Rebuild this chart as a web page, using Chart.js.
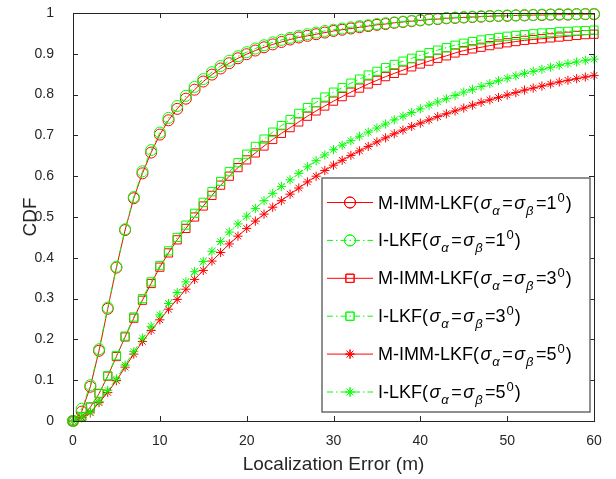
<!DOCTYPE html>
<html lang="en">
<head>
<meta charset="UTF-8">
<title>CDF of localization error</title>
<script src="https://cdn.jsdelivr.net/npm/chart.js"></script>
<style>
    body { margin: 0; background: #fff; }
    #wrap { width: 616px; height: 479px; }
</style>
</head>
<body>
<div id="wrap"><canvas id="cdfChart" width="616" height="479"></canvas></div>
<script>
// localization error (m), one sample per metre
const errors = [0,1,2,3,4,5,6,7,8,9,10,11,12,13,14,15,16,17,18,19,20,21,22,23,24,25,26,27,28,29,30,
    31,32,33,34,35,36,37,38,39,40,41,42,43,44,45,46,47,48,49,50,51,52,53,54,55,56,57,58,59,60];

// CDF values
const mImm1 = [0,0.023,0.084,0.172,0.275,0.376,0.468,0.546,0.607,0.658,0.702,0.737,0.765,0.79,0.812,0.832,
    0.849,0.864,0.877,0.889,0.899,0.908,0.916,0.923,0.929,0.935,0.94,0.944,0.948,0.952,0.956,
    0.959,0.962,0.965,0.968,0.971,0.973,0.976,0.978,0.98,0.982,0.984,0.985,0.987,0.988,0.989,
    0.99,0.991,0.992,0.993,0.993,0.994,0.994,0.995,0.995,0.996,0.996,0.996,0.997,0.997,0.997];
const iLkf1 = [0,0.03,0.088,0.176,0.278,0.378,0.47,0.549,0.612,0.664,0.707,0.743,0.772,0.797,0.819,0.838,
    0.855,0.87,0.883,0.894,0.904,0.913,0.921,0.928,0.934,0.939,0.944,0.948,0.952,0.956,0.959,
    0.962,0.965,0.968,0.97,0.973,0.975,0.977,0.979,0.981,0.983,0.985,0.986,0.988,0.989,0.99,
    0.991,0.992,0.993,0.993,0.994,0.994,0.995,0.995,0.996,0.996,0.997,0.997,0.997,0.998,0.998];
const mImm3 = [0,0.011,0.034,0.067,0.11,0.158,0.206,0.252,0.296,0.337,0.377,0.412,0.444,0.472,0.5,0.527,
    0.553,0.578,0.6,0.621,0.64,0.657,0.674,0.69,0.705,0.719,0.733,0.747,0.76,0.772,0.784,
    0.795,0.806,0.816,0.826,0.835,0.844,0.852,0.86,0.868,0.875,0.882,0.889,0.895,0.902,0.908,
    0.912,0.916,0.92,0.924,0.927,0.93,0.933,0.935,0.937,0.939,0.941,0.943,0.945,0.947,0.948];
const iLkf3 = [0,0.011,0.035,0.068,0.111,0.16,0.208,0.255,0.3,0.341,0.381,0.417,0.45,0.48,0.509,0.536,
    0.562,0.587,0.611,0.633,0.654,0.673,0.691,0.708,0.724,0.739,0.754,0.768,0.781,0.794,0.806,
    0.817,0.828,0.838,0.848,0.857,0.866,0.874,0.882,0.889,0.896,0.903,0.909,0.915,0.921,0.926,
    0.93,0.934,0.937,0.94,0.943,0.945,0.947,0.949,0.951,0.952,0.954,0.955,0.956,0.957,0.958];
const mImm5 = [0,0.008,0.02,0.045,0.07,0.099,0.132,0.164,0.195,0.222,0.248,0.274,0.298,0.323,0.347,0.369,
    0.392,0.413,0.434,0.453,0.472,0.49,0.507,0.524,0.54,0.556,0.571,0.586,0.6,0.614,0.627,
    0.639,0.651,0.662,0.673,0.684,0.694,0.704,0.713,0.722,0.73,0.738,0.746,0.753,0.76,0.767,
    0.774,0.781,0.787,0.793,0.799,0.805,0.811,0.816,0.821,0.826,0.831,0.835,0.839,0.843,0.847];
const iLkf5 = [0,0.01,0.022,0.048,0.075,0.103,0.137,0.17,0.203,0.232,0.26,0.288,0.315,0.341,0.366,0.391,
    0.416,0.44,0.463,0.483,0.502,0.521,0.54,0.558,0.575,0.591,0.607,0.623,0.638,0.652,0.665,
    0.676,0.687,0.698,0.708,0.718,0.728,0.738,0.747,0.756,0.765,0.774,0.782,0.79,0.798,0.806,
    0.813,0.82,0.827,0.834,0.84,0.846,0.852,0.857,0.862,0.867,0.872,0.876,0.88,0.884,0.887];

const xTickValues = [0, 10, 20, 30, 40, 50, 60];
const yTickValues = [0, 0.1, 0.2, 0.3, 0.4, 0.5, 0.6, 0.7, 0.8, 0.9, 1];
const yTickLabels = ['0', '0.1', '0.2', '0.3', '0.4', '0.5', '0.6', '0.7', '0.8', '0.9', '1'];

const legendNames = ['M-IMM-LKF(', 'I-LKF(', 'M-IMM-LKF(', 'I-LKF(', 'M-IMM-LKF(', 'I-LKF('];
const legendSigma = ['1', '1', '3', '3', '5', '5'];
const xTitle = 'Localization Error (m)';
const yTitle = 'CDF';

const allSeries = [mImm1, iLkf1, mImm3, iLkf3, mImm5, iLkf5];
const colors = ['#ff0000', '#00ff00', '#ff0000', '#00ff00', '#ff0000', '#00ff00'];
const markers = ['circle', 'circle', 'rect', 'rect', 'star', 'star'];
const markerSize = { circle: 5.5, rect: 5.8, star: 4.6 };
const dashDot = [6, 3, 1.5, 3];

const FONT = '"Liberation Sans", Arial, Helvetica, sans-serif';
const AXIS_COLOR = '#262626';

// draws the matlab style box, inward ticks, axis titles and the legend
const matlabAxes = {
    id: 'matlabAxes',
    afterDraw(chart) {
        const ctx = chart.ctx;
        const area = chart.chartArea;
        const xs = chart.scales.x;
        const ys = chart.scales.y;
        ctx.save();
        ctx.strokeStyle = AXIS_COLOR;
        ctx.lineWidth = 1;
        ctx.strokeRect(area.left + 0.5, area.top + 0.5, area.right - area.left, area.bottom - area.top);
        ctx.beginPath();
        xTickValues.forEach(v => {
            const px = Math.round(xs.getPixelForValue(v)) + 0.5;
            ctx.moveTo(px, area.bottom); ctx.lineTo(px, area.bottom - 5);
            ctx.moveTo(px, area.top); ctx.lineTo(px, area.top + 5);
        });
        yTickValues.forEach(v => {
            const py = Math.round(ys.getPixelForValue(v)) + 0.5;
            ctx.moveTo(area.left, py); ctx.lineTo(area.left + 5, py);
            ctx.moveTo(area.right, py); ctx.lineTo(area.right - 5, py);
        });
        ctx.stroke();

        // axis titles
        ctx.fillStyle = AXIS_COLOR;
        ctx.font = '19px ' + FONT;
        ctx.textAlign = 'center';
        ctx.textBaseline = 'middle';
        ctx.fillText(xTitle, (area.left + area.right) / 2, 465);
        ctx.translate(31, (area.top + area.bottom) / 2);
        ctx.rotate(-Math.PI / 2);
        ctx.fillText(yTitle, 0, 0);
        ctx.restore();

        drawLegend(chart);
    }
};

function drawLegend(chart) {
    const ctx = chart.ctx;
    const box = { left: 322, top: 178, right: 590, bottom: 412 };
    ctx.save();
    ctx.fillStyle = '#fff';
    ctx.fillRect(box.left, box.top, box.right - box.left, box.bottom - box.top);
    ctx.strokeStyle = '#6b6b6b';
    ctx.lineWidth = 1.5;
    ctx.strokeRect(box.left, box.top, box.right - box.left, box.bottom - box.top);

    chart.data.datasets.forEach((ds, i) => {
        const cy = 202 + i * 37.9;
        ctx.strokeStyle = ds.borderColor;
        ctx.lineWidth = 1;
        ctx.setLineDash(ds.borderDash || []);
        ctx.beginPath();
        ctx.moveTo(327, cy + 0.5);
        ctx.lineTo(373, cy + 0.5);
        ctx.stroke();
        ctx.setLineDash([]);
        ctx.fillStyle = 'rgba(0,0,0,0)';
        Chart.helpers.drawPoint(ctx, {
            pointStyle: ds.pointStyle,
            radius: ds.pointRadius,
            borderWidth: 1
        }, 350, cy + 0.5);
        ctx.stroke();
        drawEntryText(ctx, 378, cy + 6.5, legendNames[i], legendSigma[i]);
    });
    ctx.restore();
}

function drawEntryText(ctx, x, y, name, deg) {
    let cx = x;
    ctx.fillStyle = '#000';
    ctx.textAlign = 'left';
    ctx.textBaseline = 'alphabetic';
    const put = (txt, font, dy, gap) => {
        ctx.font = font;
        ctx.fillText(txt, cx, y + dy);
        cx += ctx.measureText(txt).width + (gap || 0);
    };
    put(name, '18px ' + FONT, 0, 1.5);
    put('\u03c3', 'italic 18px ' + FONT, 0, 1);
    put('\u03b1', 'italic 13px ' + FONT, 6, 2.5);
    put('=', '18px ' + FONT, 0, 1.5);
    put('\u03c3', 'italic 18px ' + FONT, 0, 1);
    put('\u03b2', 'italic 13px ' + FONT, 6, 2.5);
    put('=' + deg, '18px ' + FONT, 0, 1);
    put('0', '13px ' + FONT, -7, 1);
    put(')', '18px ' + FONT, 0, 0);
}

const datasets = allSeries.map((vals, i) => ({
    label: legendNames[i] + legendSigma[i],
    data: errors.map((e, k) => ({ x: e, y: vals[k] })),
    borderColor: colors[i],
    backgroundColor: 'rgba(0,0,0,0)',
    borderWidth: 1,
    borderDash: i % 2 === 1 ? dashDot : [],
    pointStyle: markers[i],
    pointRadius: markerSize[markers[i]],
    pointBorderColor: colors[i],
    pointBackgroundColor: 'rgba(0,0,0,0)',
    pointBorderWidth: 1,
    tension: 0,
    clip: false,
    order: allSeries.length - i
}));

new Chart(document.getElementById('cdfChart'), {
    type: 'line',
    data: { datasets },
    options: {
        responsive: false,
        animation: false,
        events: [],
        layout: { padding: { left: 0, top: 13, right: 22, bottom: 0 } },
        plugins: { legend: { display: false }, tooltip: { enabled: false } },
        scales: {
            x: {
                type: 'linear',
                min: 0,
                max: 60,
                afterBuildTicks: s => { s.ticks = xTickValues.map(v => ({ value: v })); },
                afterFit: s => { s.height = 58; s.paddingLeft = 0; s.paddingRight = 0; },
                ticks: {
                    callback: v => String(v),
                    font: { size: 14, family: FONT },
                    color: AXIS_COLOR,
                    padding: 4,
                    maxRotation: 0
                },
                grid: { display: false },
                border: { display: false }
            },
            y: {
                type: 'linear',
                min: 0,
                max: 1,
                afterBuildTicks: s => { s.ticks = yTickValues.map(v => ({ value: v })); },
                afterFit: s => { s.width = 73; s.paddingTop = 0; s.paddingBottom = 0; },
                ticks: {
                    callback: (v, idx) => yTickLabels[idx],
                    font: { size: 14, family: FONT },
                    color: AXIS_COLOR,
                    padding: 11
                },
                grid: { display: false },
                border: { display: false }
            }
        }
    },
    plugins: [matlabAxes]
});
</script>
</body>
</html>
